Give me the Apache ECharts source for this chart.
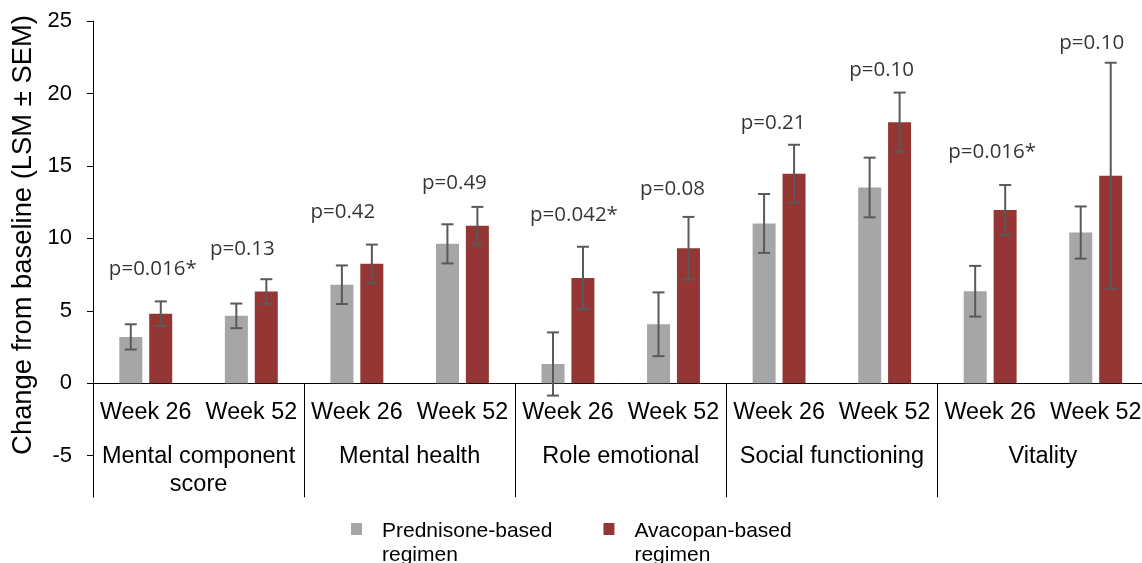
<!DOCTYPE html>
<html>
<head>
<meta charset="utf-8">
<title>Change from baseline</title>
<script src="https://cdn.jsdelivr.net/npm/echarts@6/dist/echarts.min.js"></script>
<style>
  html, body { margin: 0; padding: 0; background: #fff; }
  #chart { width: 1142px; height: 563px; }
</style>
</head>
<body>
<div id="chart"></div>
<script>
// categories
var groups = ['Mental component\nscore', 'Mental health', 'Role emotional', 'Social functioning', 'Vitality'];
var weeks = ['Week 26', 'Week 52', 'Week 26', 'Week 52', 'Week 26', 'Week 52', 'Week 26', 'Week 52', 'Week 26', 'Week 52'];

// LSM and SEM per bar
var prednisone = [3.2, 4.65, 6.8, 9.62, 1.33, 4.07, 11.03, 13.51, 6.35, 10.4];
var prednisoneSem = [0.87, 0.85, 1.33, 1.35, 2.18, 2.2, 2.03, 2.06, 1.75, 1.8];
var avacopan = [4.8, 6.33, 8.24, 10.87, 7.27, 9.32, 14.46, 18.02, 11.95, 14.32];
var avacopanSem = [0.85, 0.85, 1.33, 1.3, 2.15, 2.16, 2.0, 2.04, 1.73, 7.8];

// p-value annotations and the height they sit at
var pLabels = ['p=0.016*', 'p=0.13', 'p=0.42', 'p=0.49', 'p=0.042*', 'p=0.08', 'p=0.21', 'p=0.10', 'p=0.016*', 'p=0.10'];
var pLabelY = [7.87, 9.25, 11.84, 13.8, 11.62, 13.39, 17.98, 21.62, 15.98, 23.46];

var yTicks = [-5, 0, 5, 10, 15, 20, 25];

// small horizontal nudges of the p labels (px)
var pShift = [7, -9, -14, -8, 6, -1, -6, -3, 2, -4];

var FONT = 'Liberation Sans';
var barW = 23;
var half = 15; // distance bar centre to category centre
var Y_MIN = -7.85, Y_MAX = 25;
var TOP = 21, BOTTOM = 66, H = 563;
// the category axes sit on y = 0, i.e. above the grid's bottom edge
var zeroOffset = -(H - BOTTOM - TOP) * (0 - Y_MIN) / (Y_MAX - Y_MIN);

function errorBars(shift) {
  return function (params, api) {
    var i = api.value(0), v = api.value(1), e = api.value(2);
    var hi = api.coord([i, v + e]);
    var lo = api.coord([i, v - e]);
    var x = hi[0] + shift;
    var w = 6;
    var st = { stroke: '#595959', lineWidth: 2 };
    return {
      type: 'group',
      children: [
        { type: 'line', shape: { x1: x, y1: hi[1], x2: x, y2: lo[1] }, style: st },
        { type: 'line', shape: { x1: x - w, y1: hi[1], x2: x + w, y2: hi[1] }, style: st },
        { type: 'line', shape: { x1: x - w, y1: lo[1], x2: x + w, y2: lo[1] }, style: st }
      ]
    };
  };
}

var chart = echarts.init(document.getElementById('chart'));

var option = {
  animation: false,
  backgroundColor: '#fff',
  textStyle: { fontFamily: FONT },
  grid: { left: 93, right: -6.5, top: TOP, bottom: BOTTOM, containLabel: false, outerBoundsMode: 'none' },
  legend: {
    data: ['Prednisone-based\nregimen', 'Avacopan-based\nregimen'],
    left: 351,
    top: 519,
    padding: 0,
    itemGap: 51,
    itemWidth: 11,
    itemHeight: 40,
    icon: 'path://M0,0L11,0L11,12L0,12Z M0,40',
    textStyle: { fontFamily: FONT, fontSize: 21, lineHeight: 24, color: '#000', padding: [0, 0, 0, 15] }
  },
  xAxis: [
    {
      type: 'category',
      data: weeks,
      position: 'bottom',
      offset: zeroOffset,
      axisLine: { onZero: false, lineStyle: { color: '#000', width: 1 } },
      axisTick: { show: false },
      axisLabel: { interval: 0, margin: 18, fontFamily: FONT, fontSize: 23.3, color: '#000' },
      splitLine: { show: false }
    },
    {
      type: 'category',
      data: groups,
      position: 'bottom',
      offset: zeroOffset,
      axisLine: { show: false, onZero: false },
      axisTick: { show: true, length: 114, lineStyle: { color: '#000', width: 1 } },
      axisLabel: { interval: 0, margin: 59, fontFamily: FONT, fontSize: 23.5, lineHeight: 28, color: '#000' },
      splitLine: { show: false }
    }
  ],
  yAxis: {
    type: 'value',
    min: Y_MIN,
    max: Y_MAX,
    name: 'Change from baseline (LSM \u00b1 SEM)',
    nameLocation: 'middle',
    nameGap: 50,
    nameTextStyle: { fontFamily: FONT, fontSize: 27.4, color: '#000', padding: [0, 0, 0, 48] },
    axisLine: { show: true, lineStyle: { color: '#000', width: 1 } },
    axisTick: { show: true, length: 6, customValues: yTicks, lineStyle: { color: '#000' } },
    axisLabel: { customValues: yTicks, margin: 21, fontFamily: FONT, fontSize: 22, color: '#000' },
    splitLine: { show: false }
  },
  series: [
    {
      name: 'Prednisone-based\nregimen',
      type: 'bar',
      xAxisIndex: 0,
      barWidth: barW,
      barGap: '30%',
      itemStyle: { color: '#A6A6A6' },
      data: prednisone
    },
    {
      name: 'Avacopan-based\nregimen',
      type: 'bar',
      xAxisIndex: 0,
      barWidth: barW,
      barGap: '30%',
      itemStyle: { color: '#943634' },
      data: avacopan
    },
    {
      type: 'custom',
      xAxisIndex: 0,
      renderItem: errorBars(-half),
      encode: { x: 0, y: 1 },
      z: 5,
      data: prednisone.map(function (v, i) { return [i, v, prednisoneSem[i]]; })
    },
    {
      type: 'custom',
      xAxisIndex: 0,
      renderItem: errorBars(half),
      encode: { x: 0, y: 1 },
      z: 5,
      data: avacopan.map(function (v, i) { return [i, v, avacopanSem[i]]; })
    },
    {
      type: 'scatter',
      xAxisIndex: 0,
      symbolSize: 0,
      silent: true,
      z: 6,
      label: {
        show: true,
        position: 'inside',
        fontFamily: 'Open Sans',
        fontSize: 20.5,
        color: '#000',
        formatter: function (p) { return pLabels[p.dataIndex]; }
      },
      data: pLabelY.map(function (y, i) {
        return { value: [i, y], label: { offset: [pShift[i], 0] } };
      })
    }
  ]
};

chart.setOption(option);
</script>
</body>
</html>
